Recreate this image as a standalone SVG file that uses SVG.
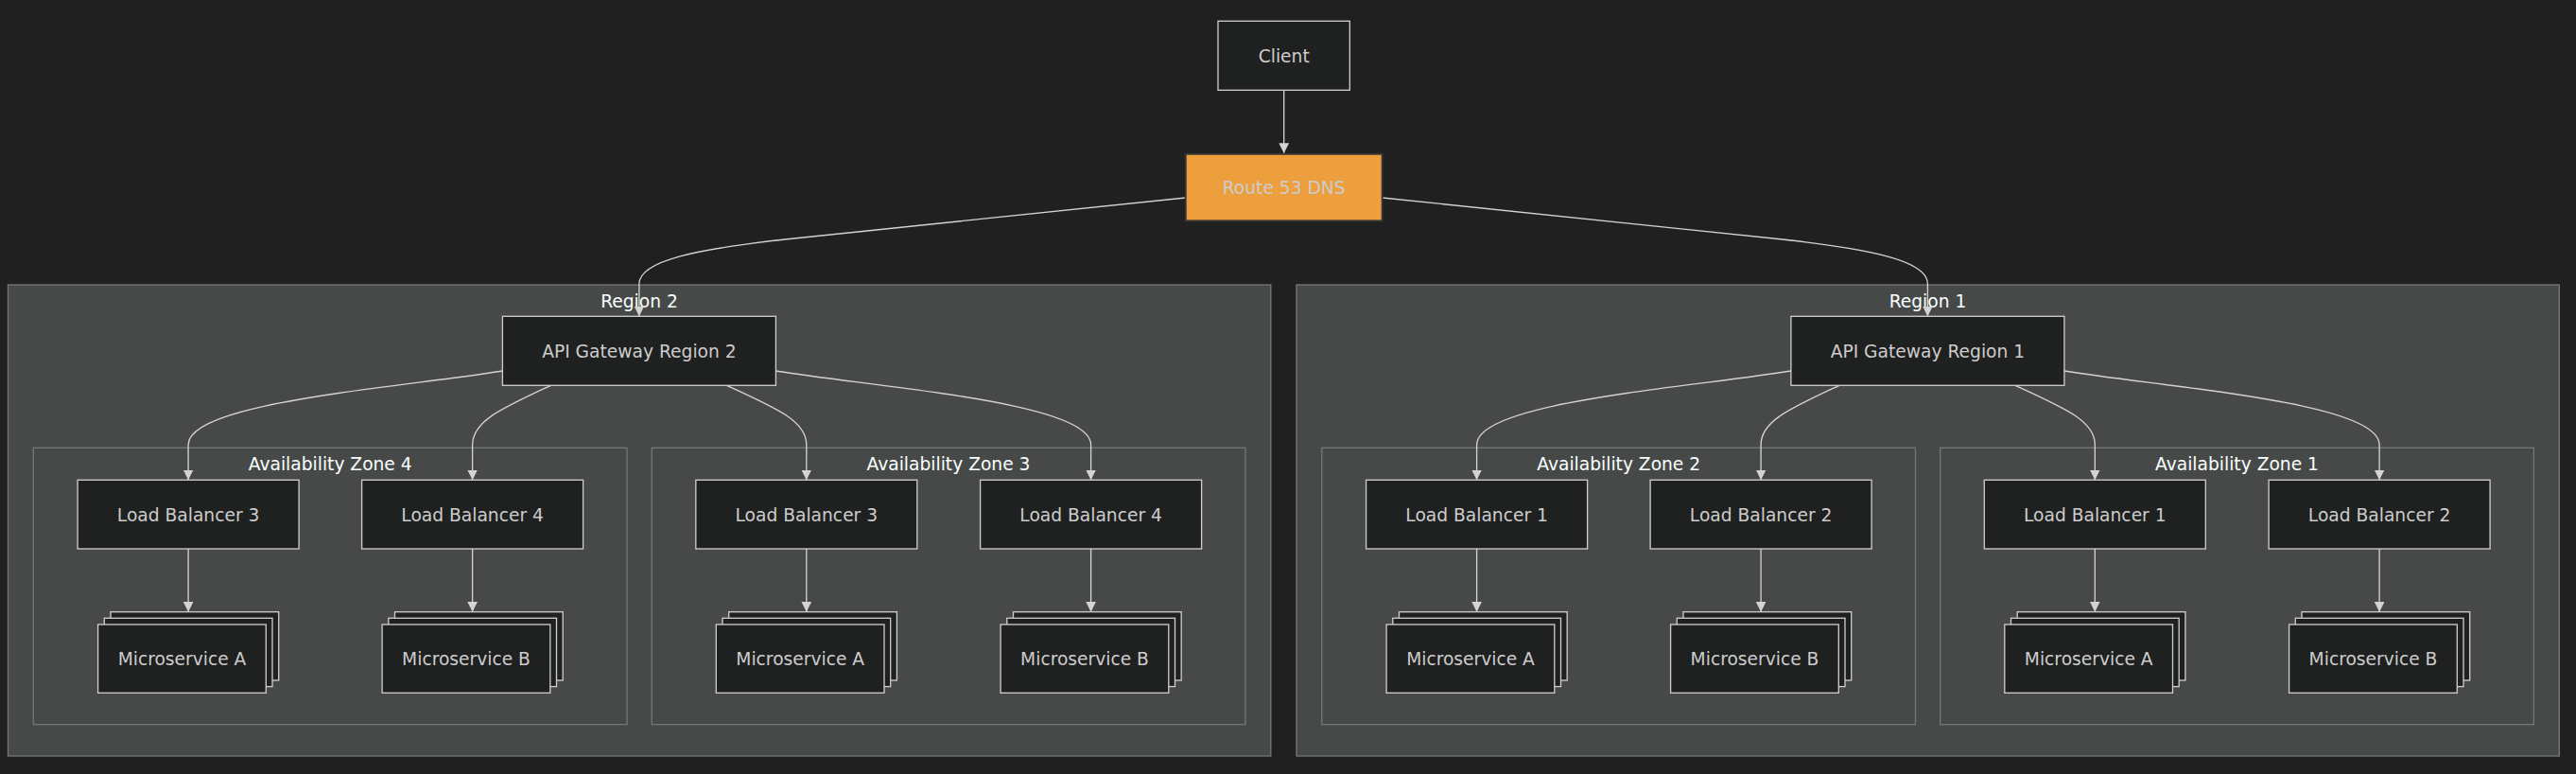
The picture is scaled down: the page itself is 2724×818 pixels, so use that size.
<svg xmlns="http://www.w3.org/2000/svg" width="2724" height="818" viewBox="0 0 2724 818">
<defs>
<style>
.cl{fill:#474949;stroke:#757777;stroke-width:1.33}
.cll{fill:#f9fffe;font-family:"DejaVu Sans",sans-serif;font-size:18.67px;text-anchor:middle}
.n{fill:#1f2020;stroke:#cccccc;stroke-width:1.33}
.t{fill:#cccccc;font-family:"DejaVu Sans",sans-serif;font-size:18.67px;text-anchor:middle}
.e{fill:none;stroke:#d3d3d3;stroke-width:1.33;marker-end:url(#ah)}
</style>
<marker id="ah" viewBox="0 0 10 10" refX="10" refY="5" markerWidth="10.7" markerHeight="10.7" markerUnits="userSpaceOnUse" orient="auto">
<path d="M0,0 L10,5 L0,10 z" fill="#d3d3d3"/>
</marker>
</defs>
<rect width="2724" height="818" fill="#202020"/>

<g id="region2">
<rect class="cl" x="8.5" y="301" width="1335.3" height="498"/>
<text class="cll" x="676" y="325">Region 2</text>
</g>
<g id="az4">
<rect class="cl" x="35.3" y="473.3" width="627.7" height="292.4"/>
<text class="cll" x="349.2" y="497.3">Availability Zone 4</text>
</g>
<g id="az3">
<rect class="cl" x="689.2" y="473.3" width="627.7" height="292.4"/>
<text class="cll" x="1003" y="497.3">Availability Zone 3</text>
</g>
<g id="region1">
<rect class="cl" x="1371" y="301" width="1335.3" height="498"/>
<text class="cll" x="2038.5" y="325">Region 1</text>
</g>
<g id="az2">
<rect class="cl" x="1397.8" y="473.3" width="627.7" height="292.4"/>
<text class="cll" x="1711.7" y="497.3">Availability Zone 2</text>
</g>
<g id="az1">
<rect class="cl" x="2051.7" y="473.3" width="627.7" height="292.4"/>
<text class="cll" x="2365.5" y="497.3">Availability Zone 1</text>
</g>

<g id="connectors">
<path class="e" d="M1357.7,95.3 L1357.7,162"/>
<path class="e" d="M1253.7,209 L830,253 C740,263 675.9,275 675.9,300 L675.9,334.3"/>
<path class="e" d="M1461.7,209 L1885,253 C1975,263 2038.4,275 2038.4,300 L2038.4,334.3"/>
<path class="e" d="M531.4,392 C420,410 199.1,425 199.1,470 L199.1,507.3"/>
<path class="e" d="M582.6,407.3 C530,432 499.6,445 499.6,470 L499.6,507.3"/>
<path class="e" d="M768.3,407.3 C822,432 852.8,445 852.8,470 L852.8,507.3"/>
<path class="e" d="M820.3,392 C932,410 1153.6,425 1153.6,470 L1153.6,507.3"/>
<path class="e" d="M1893.9,392 C1782.5,410 1561.6,425 1561.6,470 L1561.6,507.3"/>
<path class="e" d="M1945.1,407.3 C1892.5,432 1862.1,445 1862.1,470 L1862.1,507.3"/>
<path class="e" d="M2130.8,407.3 C2184.5,432 2215.3,445 2215.3,470 L2215.3,507.3"/>
<path class="e" d="M2182.8,392 C2294.5,410 2516.1,425 2516.1,470 L2516.1,507.3"/>
<path class="e" d="M199.1,580 L199.1,646.7"/>
<path class="e" d="M499.6,580 L499.6,646.7"/>
<path class="e" d="M852.8,580 L852.8,646.7"/>
<path class="e" d="M1153.6,580 L1153.6,646.7"/>
<path class="e" d="M1561.6,580 L1561.6,646.7"/>
<path class="e" d="M1862.1,580 L1862.1,646.7"/>
<path class="e" d="M2215.3,580 L2215.3,646.7"/>
<path class="e" d="M2516.1,580 L2516.1,646.7"/>
</g>

<g id="client">
<rect class="n" x="1288" y="22.3" width="139.3" height="73"/>
<text class="t" x="1357.7" y="65.6">Client</text>
</g>
<g id="route53">
<rect x="1253.7" y="162.7" width="208" height="70.7" fill="#ec9f3c" stroke="#333333" stroke-width="2"/>
<text class="t" x="1357.7" y="204.8">Route 53 DNS</text>
</g>

<g id="apigw2">
<rect class="n" x="531.4" y="334.3" width="289" height="73"/>
<text class="t" x="675.9" y="377.6">API Gateway Region 2</text>
</g>
<g id="apigw1">
<rect class="n" x="1893.9" y="334.3" width="289" height="73"/>
<text class="t" x="2038.4" y="377.6">API Gateway Region 1</text>
</g>

<g id="lb3-az4">
<rect class="n" x="82.1" y="507.3" width="234" height="72.7"/>
<text class="t" x="199.1" y="550.5">Load Balancer 3</text>
</g>
<g id="lb4-az4">
<rect class="n" x="382.6" y="507.3" width="234" height="72.7"/>
<text class="t" x="499.6" y="550.5">Load Balancer 4</text>
</g>
<g id="lb3-az3">
<rect class="n" x="735.8" y="507.3" width="234" height="72.7"/>
<text class="t" x="852.8" y="550.5">Load Balancer 3</text>
</g>
<g id="lb4-az3">
<rect class="n" x="1036.6" y="507.3" width="234" height="72.7"/>
<text class="t" x="1153.6" y="550.5">Load Balancer 4</text>
</g>
<g id="lb1-az2">
<rect class="n" x="1444.6" y="507.3" width="234" height="72.7"/>
<text class="t" x="1561.6" y="550.5">Load Balancer 1</text>
</g>
<g id="lb2-az2">
<rect class="n" x="1745.1" y="507.3" width="234" height="72.7"/>
<text class="t" x="1862.1" y="550.5">Load Balancer 2</text>
</g>
<g id="lb1-az1">
<rect class="n" x="2098.3" y="507.3" width="234" height="72.7"/>
<text class="t" x="2215.3" y="550.5">Load Balancer 1</text>
</g>
<g id="lb2-az1">
<rect class="n" x="2399.1" y="507.3" width="234" height="72.7"/>
<text class="t" x="2516.1" y="550.5">Load Balancer 2</text>
</g>

<g id="msa-az4">
<rect class="n" x="117" y="646.7" width="177.7" height="72.3"/>
<rect class="n" x="110.3" y="653.3" width="177.7" height="72.3"/>
<rect class="n" x="103.6" y="660" width="177.7" height="72.3"/>
<text class="t" x="192.5" y="703">Microservice A</text>
</g>
<g id="msb-az4">
<rect class="n" x="417.5" y="646.7" width="177.7" height="72.3"/>
<rect class="n" x="410.8" y="653.3" width="177.7" height="72.3"/>
<rect class="n" x="404.1" y="660" width="177.7" height="72.3"/>
<text class="t" x="493" y="703">Microservice B</text>
</g>
<g id="msa-az3">
<rect class="n" x="770.7" y="646.7" width="177.7" height="72.3"/>
<rect class="n" x="764" y="653.3" width="177.7" height="72.3"/>
<rect class="n" x="757.3" y="660" width="177.7" height="72.3"/>
<text class="t" x="846.2" y="703">Microservice A</text>
</g>
<g id="msb-az3">
<rect class="n" x="1071.5" y="646.7" width="177.7" height="72.3"/>
<rect class="n" x="1064.8" y="653.3" width="177.7" height="72.3"/>
<rect class="n" x="1058.1" y="660" width="177.7" height="72.3"/>
<text class="t" x="1147" y="703">Microservice B</text>
</g>
<g id="msa-az2">
<rect class="n" x="1479.5" y="646.7" width="177.7" height="72.3"/>
<rect class="n" x="1472.8" y="653.3" width="177.7" height="72.3"/>
<rect class="n" x="1466.1" y="660" width="177.7" height="72.3"/>
<text class="t" x="1555" y="703">Microservice A</text>
</g>
<g id="msb-az2">
<rect class="n" x="1780" y="646.7" width="177.7" height="72.3"/>
<rect class="n" x="1773.3" y="653.3" width="177.7" height="72.3"/>
<rect class="n" x="1766.6" y="660" width="177.7" height="72.3"/>
<text class="t" x="1855.5" y="703">Microservice B</text>
</g>
<g id="msa-az1">
<rect class="n" x="2133.2" y="646.7" width="177.7" height="72.3"/>
<rect class="n" x="2126.5" y="653.3" width="177.7" height="72.3"/>
<rect class="n" x="2119.8" y="660" width="177.7" height="72.3"/>
<text class="t" x="2208.7" y="703">Microservice A</text>
</g>
<g id="msb-az1">
<rect class="n" x="2434" y="646.7" width="177.7" height="72.3"/>
<rect class="n" x="2427.3" y="653.3" width="177.7" height="72.3"/>
<rect class="n" x="2420.6" y="660" width="177.7" height="72.3"/>
<text class="t" x="2509.5" y="703">Microservice B</text>
</g>
</svg>
